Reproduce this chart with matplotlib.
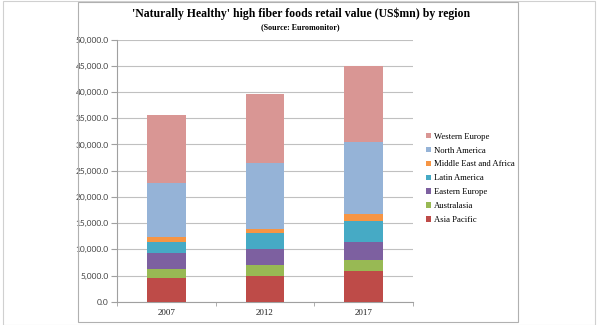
import numpy as np
import matplotlib
matplotlib.use("Agg")
import matplotlib.pyplot as plt
from matplotlib.patches import Rectangle

years = ['2007', '2012', '2017']
regions = ['Asia Pacific', 'Australasia', 'Eastern Europe', 'Latin America',
           'Middle East and Africa', 'North America', 'Western Europe']
asia_pacific = [4500, 5000, 5900]
australasia = [1800, 1950, 2000]
eastern_europe = [3050, 3150, 3500]
latin_america = [2050, 2950, 4000]
middle_east_africa = [900, 850, 1300]
north_america = [10400, 12500, 13700]
western_europe = [12900, 13200, 14600]
series = [asia_pacific, australasia, eastern_europe, latin_america,
          middle_east_africa, north_america, western_europe]
colors = ['#BE4B48', '#98B954', '#7D60A0', '#46AAC5', '#F69544', '#95B3D7', '#D99694']

W, H = 597, 325
fig = plt.figure(figsize=(W / 100, H / 100), dpi=100)

# screenshot frames
fig.patches.append(Rectangle((2.5 / W, 0), (595 - 2.5) / W, 1 - 1 / H, transform=fig.transFigure,
                             fill=False, ec='#d0d0d0', lw=0.8))
fig.patches.append(Rectangle((78 / W, 1 - 322 / H), (518 - 78) / W, (322 - 2) / H,
                             transform=fig.transFigure, fill=False, ec='#b0b0b0', lw=0.8))

ax = fig.add_axes([117 / W, 1 - 301.7 / H, (413 - 117) / W, (301.7 - 39.7) / H])
x = np.arange(len(years))
bottom = np.zeros(len(years))
for name, vals, c in zip(regions, series, colors):
    ax.bar(x, vals, 0.39, bottom=bottom, color=c, label=name, zorder=3)
    bottom += np.array(vals)

ax.set_xlim(-0.5, 2.5)
ax.set_ylim(0, 50000)
ax.set_yticks(np.arange(0, 50001, 5000))
ax.set_yticklabels(['{:,.1f}'.format(v) for v in np.arange(0, 50001, 5000)],
                   family='Lato', fontsize=6, color='#404040')
ax.yaxis.grid(True, color='#c0c0c0', lw=0.8, zorder=0)
ax.tick_params(axis='y', length=4, color='#a0a0a0', pad=2)
ax.set_xticks(x)
ax.set_xticklabels(years, family='Liberation Serif', fontsize=6.5, color='#202020')
ax.set_xticks([-0.5, 0.5, 1.5, 2.5], minor=True)
ax.tick_params(axis='x', which='major', length=0, pad=5)
ax.tick_params(axis='x', which='minor', length=3, color='#a0a0a0')
for s in ['top', 'right']:
    ax.spines[s].set_visible(False)
for s in ['left', 'bottom']:
    ax.spines[s].set_color('#a0a0a0')
    ax.spines[s].set_linewidth(0.8)

h, l = ax.get_legend_handles_labels()
leg = fig.legend(h[::-1], l[::-1], loc='upper left', bbox_to_anchor=(418 / W, 1 - 125 / H),
                 frameon=False, prop={'family': 'Liberation Serif', 'size': 6.2},
                 handlelength=0.6, handleheight=0.6, handletextpad=0.3, labelspacing=0.68)

fig.text(301 / W, 1 - 14 / H, "'Naturally Healthy' high fiber foods retail value (US$mn) by region",
         ha='center', va='center', family='Liberation Serif', weight='bold', fontsize=8.5)
fig.text(300 / W, 1 - 27 / H, '(Source: Euromonitor)', ha='center', va='center',
         family='Liberation Serif', weight='bold', fontsize=5.8)

fig.savefig('out.png', dpi=100)
